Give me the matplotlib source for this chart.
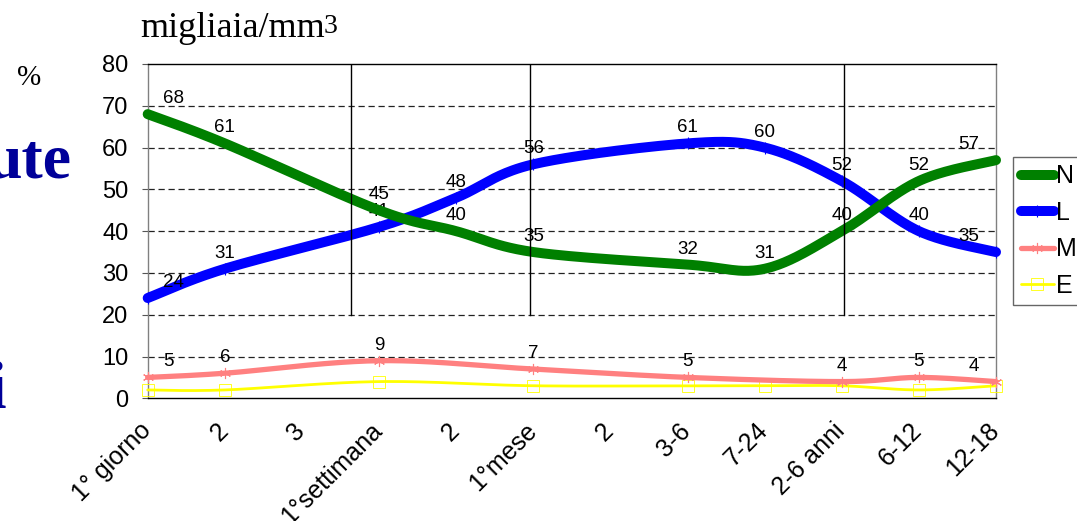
import numpy as np
import matplotlib
matplotlib.use("Agg")
import matplotlib.pyplot as plt
import matplotlib.transforms as mtransforms
from matplotlib.lines import Line2D

# ---------------- data ----------------
categories = ["1° giorno", "2", "3", "1°settimana", "2", "1°mese", "2",
              "3-6", "7-24", "2-6 anni", "6-12", "12-18"]
N = [68, 61, None, 45, 40, 35, None, 32, 31, 40, 52, 57]
L = [24, 31, None, 41, 48, 56, None, 61, 60, 52, 40, 35]
M = [5, 6, None, 9, None, 7, None, 5, None, 4, 5, 4]
E = [2, 2, None, 4, None, 3, None, 3, 3, 3, 2, 3]
series_names = ["N", "L", "M", "E"]
yticks = list(range(0, 81, 10))
divider_x = [2.64, 4.96, 9.03]   # vertical separator lines (category units)

plt.rcParams['font.family'] = ['Liberation Sans', 'DejaVu Sans']

W, H = 1077, 521
fig = plt.figure(figsize=(W / 100, H / 100), dpi=100)
ax = fig.add_axes([147.7 / W, 1 - 398.3 / H, (996 - 147.7) / W, (398.3 - 64) / H])
ax.set_xlim(0, len(categories) - 1)
ax.set_ylim(0, 80)

# axes styling
ax.set_yticks(yticks)
ax.set_yticklabels([str(v) for v in yticks], fontsize=17)
ax.set_xticks(range(len(categories)))
ax.set_xticklabels(categories, fontsize=18, rotation=45, ha='right',
                   rotation_mode='anchor')
ax.tick_params(axis='x', length=0, pad=11)
ax.tick_params(axis='y', length=4, width=0.8, color='#555555', pad=10)
shift = mtransforms.ScaledTranslation(-0.09, -0.05, fig.dpi_scale_trans)
for lab in ax.get_xticklabels():
    lab.set_transform(lab.get_transform() + shift)
for v in yticks[1:-1]:
    ax.axhline(v, color='#222222', lw=0.9, ls=(0, (5, 3)), zorder=1)
ax.spines['left'].set_color('#808080')
ax.spines['right'].set_color('#808080')
ax.spines['top'].set_color('black')
ax.spines['bottom'].set_color('black')
for s in ax.spines.values():
    s.set_linewidth(1.0)

fig.canvas.draw()


def smooth(xs, ys):
    pts = ax.transData.transform(np.column_stack([xs, ys]))
    n = len(pts)
    out = []
    t = np.linspace(0, 1, 40)[:, None]
    for i in range(n - 1):
        p0 = pts[i - 1] if i > 0 else pts[i]
        p1 = pts[i]
        p2 = pts[i + 1]
        p3 = pts[i + 2] if i + 2 < n else pts[i + 1]
        c1 = p1 + (p2 - p0) / 6
        c2 = p2 - (p3 - p1) / 6
        seg = ((1 - t) ** 3) * p1 + 3 * ((1 - t) ** 2) * t * c1 + \
            3 * (1 - t) * (t ** 2) * c2 + (t ** 3) * p2
        out.append(seg if i == 0 else seg[1:])
    return ax.transData.inverted().transform(np.vstack(out))


styles = {
    "N": dict(color='#008000', lw=7.2, marker=None, ms=0, mfc='none', mew=0, label_on=True),
    "L": dict(color='#0000FF', lw=7.2, marker='|', ms=8, mfc='#0000FF', mew=0.8, label_on=True),
    "M": dict(color='#FF8080', lw=3.8, marker=(6, 2, 0), ms=8, mfc='#FF8080', mew=0.8, label_on=True),
    "E": dict(color='#FFFF00', lw=2.0, marker='s', ms=8, mfc='none', mew=0.6, label_on=False),
}
data = {"N": N, "L": L, "M": M, "E": E}
z = {"N": 4, "L": 3.5, "M": 3.2, "E": 3.0}
label_z = {"N": 5, "L": 3.8, "M": 5, "E": 5}

handles = []
for name in series_names:
    vals = data[name]
    st = styles[name]
    xs = [i for i, v in enumerate(vals) if v is not None]
    ys = [v for v in vals if v is not None]
    curve = smooth(xs, ys)
    ax.plot(curve[:, 0], curve[:, 1], color=st['color'], lw=st['lw'],
            solid_capstyle='round', zorder=z[name], clip_on=False)
    if st['marker'] is not None:
        ax.plot(xs, ys, ls='none', marker=st['marker'], ms=st['ms'],
                mfc=st['mfc'], mec=st['color'], mew=st['mew'],
                zorder=z[name] + 0.05, clip_on=False)
    handles.append(Line2D([], [], color=st['color'], lw=st['lw'],
                          solid_capstyle='round',
                          marker=st['marker'] if st['marker'] else None,
                          ms=st['ms'], mfc=st['mfc'], mec=st['color'],
                          mew=st['mew']))
    if st['label_on']:
        last = len(vals) - 1
        for x, y in zip(xs, ys):
            if x == 0:
                off, ha = (11, 5), 'left'
            elif x == last:
                off, ha = (-12, 5), 'right'
            else:
                off, ha = (0, 5), 'center'
            ax.annotate(str(y), (x, y), xytext=off, textcoords='offset points',
                        ha=ha, va='bottom', fontsize=13.5, zorder=label_z[name])

# vertical separators
for dx in divider_x:
    ax.plot([dx, dx], [20, 80], color='black', lw=1.0, zorder=6)

# legend
leg = fig.legend(handles, series_names, loc='upper left',
                 bbox_to_anchor=(1013 / W, 1 - 157 / H), frameon=True,
                 fancybox=False, edgecolor='#404040', fontsize=18,
                 handlelength=1.35, handletextpad=0.05, labelspacing=0.5,
                 borderpad=0.3, borderaxespad=0, numpoints=1)
leg.get_frame().set_linewidth(1.0)

# surrounding texts
serif = ['Liberation Serif', 'DejaVu Serif']
fig.text(140 / W, 1 - 37 / H, "migliaia/mm", fontsize=26,
         family=serif, ha='left', va='baseline')
fig.text(324 / W, 1 - 33 / H, "3", fontsize=20,
         family=serif, ha='left', va='baseline')
fig.text(17 / W, 1 - 85 / H, "%", fontsize=21,
         family=serif, ha='left', va='baseline')
fig.text(71 / W, 1 - 178 / H, "ute", fontsize=46, fontweight='bold',
         color='#000099', family=serif, ha='right', va='baseline')
fig.text(6 / W, 1 - 408 / H, "i", fontsize=48, fontweight='bold',
         color='#000099', family=serif, ha='right', va='baseline')

fig.savefig("out.png", dpi=100)
